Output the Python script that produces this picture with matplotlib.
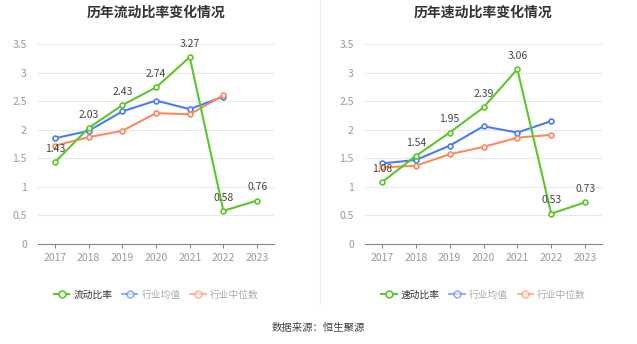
import matplotlib.pyplot as plt
import numpy as np

plt.rcParams['font.family'] = ['Noto Sans CJK SC', 'DejaVu Sans']

years = ["2017", "2018", "2019", "2020", "2021", "2022", "2023"]

# 流动比率
current_ratio = [1.43, 2.03, 2.43, 2.74, 3.27, 0.58, 0.76]
current_avg = [1.85, 1.98, 2.32, 2.51, 2.36, 2.58]
current_median = [1.72, 1.87, 1.98, 2.29, 2.27, 2.60]

# 速动比率
quick_ratio = [1.08, 1.54, 1.95, 2.39, 3.06, 0.53, 0.73]
quick_avg = [1.41, 1.47, 1.72, 2.06, 1.95, 2.15]
quick_median = [1.34, 1.37, 1.57, 1.70, 1.86, 1.91]

green = "#5cc62a"
blue = "#4a7ef0"
orange = "#fb8b5e"

fig = plt.figure(figsize=(6.37, 3.44), dpi=100)
ax1 = fig.add_axes([38 / 637, 100 / 344, 236 / 637, 200 / 344])
ax2 = fig.add_axes([365 / 637, 100 / 344, 237 / 637, 200 / 344])


def draw(ax, title, main, avg, med, main_label):
    x = np.arange(len(years))
    ax.plot(x[:len(avg)], avg, color=blue, lw=1.5, marker="o", ms=3.5,
            mfc="white", mew=1.2, label="行业均值", zorder=3)
    ax.plot(x[:len(med)], med, color=orange, lw=1.5, marker="o", ms=3.5,
            mfc="white", mew=1.2, label="行业中位数", zorder=3)
    ax.plot(x, main, color=green, lw=1.5, marker="o", ms=3.5,
            mfc="white", mew=1.2, label=main_label, zorder=4)
    for i, v in enumerate(main):
        ax.annotate(f"{v:.2f}", (x[i], v), xytext=(0, 6), textcoords="offset points",
                    ha="center", va="bottom", fontsize=7.5, color="#444444", zorder=5)
    ax.set_ylim(0, 3.5)
    ax.set_xlim(-0.5, len(years) - 0.5)
    ax.set_yticks(np.arange(0, 3.6, 0.5))
    ax.set_yticklabels(["0", "0.5", "1", "1.5", "2", "2.5", "3", "3.5"])
    ax.set_xticks(x)
    ax.set_xticklabels(years)
    ax.tick_params(axis="y", length=0, labelsize=7.5, labelcolor="#999999", pad=8)
    ax.tick_params(axis="x", length=3, color="#888888", labelsize=7.5,
                   labelcolor="#999999")
    ax.grid(axis="y", color="#e6e9f2", lw=0.8)
    ax.set_axisbelow(True)
    for s in ["top", "right", "left"]:
        ax.spines[s].set_visible(False)
    ax.spines["bottom"].set_color("#888888")
    ax.set_title(title, fontsize=10, fontweight="bold", color="#333333", pad=20)
    handles, labels = ax.get_legend_handles_labels()
    order = [2, 0, 1]
    leg = ax.legend([handles[i] for i in order], [labels[i] for i in order],
                    loc="upper center", bbox_to_anchor=(0.5, -0.185), ncol=3,
                    frameon=False, fontsize=7, handlelength=1.6,
                    columnspacing=1.0, handletextpad=0.4, markerscale=1.4)
    for j, t in enumerate(leg.get_texts()):
        t.set_color("#333333" if j == 0 else "#aaaaaa")
    for j, h in enumerate(leg.legend_handles):
        if j > 0:
            h.set_alpha(0.6)


draw(ax1, "历年流动比率变化情况", current_ratio, current_avg, current_median, "流动比率")
draw(ax2, "历年速动比率变化情况", quick_ratio, quick_avg, quick_median, "速动比率")

fig.add_artist(plt.Line2D([320 / 637, 320 / 637], [40 / 344, 1], color="#eeeeee", lw=0.8))
fig.text(0.5, 1 - 328 / 344, "数据来源：恒生聚源", ha="center", va="center",
         fontsize=7.5, color="#444444")

plt.savefig("out.png", dpi=100)
